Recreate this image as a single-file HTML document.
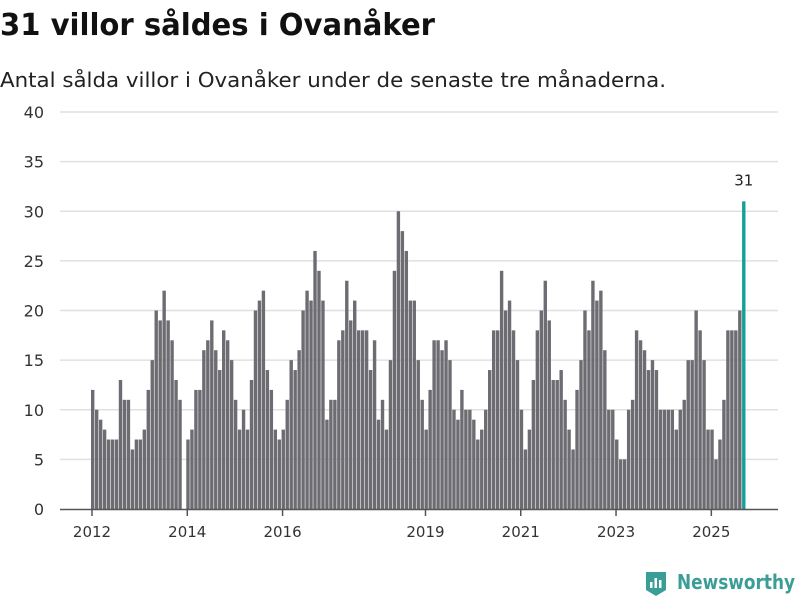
<!DOCTYPE html>
<html><head><meta charset="utf-8"><style>
body{margin:0;background:#fff;width:800px;height:600px;overflow:hidden;font-family:"DejaVu Sans","Liberation Sans",sans-serif;}
</style></head><body>
<svg width="800" height="600" id="svg">
<text x="0" y="35" font-size="30" font-weight="bold" fill="#111" textLength="435" lengthAdjust="spacingAndGlyphs">31 villor såldes i Ovanåker</text>
<text x="0" y="87" font-size="20" fill="#222" textLength="666" lengthAdjust="spacingAndGlyphs">Antal sålda villor i Ovanåker under de senaste tre månaderna.</text>
<g id="grid"></g><g id="bars"></g><g id="xax"></g>
<g>
<path d="M646 572 h20 v18 l-10 6 l-10 -6 z" fill="#3a9e96"/>
<rect x="650" y="582" width="2.5" height="6" fill="#fff"/><rect x="654.5" y="578" width="2.5" height="10" fill="#fff"/><rect x="659" y="580" width="2.5" height="8" fill="#fff"/>
<text x="677" y="589" font-size="20" font-weight="bold" fill="#3a9e96" textLength="118" lengthAdjust="spacingAndGlyphs">Newsworthy</text>
</g>
</svg>
<script>
const values=[12,10,9,8,7,7,7,13,11,11,6,7,
7,8,12,15,20,19,22,19,17,13,11,0,
7,8,12,12,16,17,19,16,14,18,17,15,
11,8,10,8,13,20,21,22,14,12,8,7,
8,11,15,14,16,20,22,21,26,24,21,9,
11,11,17,18,23,19,21,18,18,18,14,17,
9,11,8,15,24,30,28,26,21,21,15,11,
8,12,17,17,16,17,15,10,9,12,10,10,
9,7,8,10,14,18,18,24,20,21,18,15,
10,6,8,13,18,20,23,19,13,13,14,11,
8,6,12,15,20,18,23,21,22,16,10,10,
7,5,5,10,11,18,17,16,14,15,14,10,
10,10,10,8,10,11,15,15,20,18,15,8,
8,5,7,11,18,18,18,20,31];
const yTicks=[0,5,10,15,20,25,30,35,40];
const xYears=[2012,2014,2016,2019,2021,2023,2025];
const startYear=2012;
const NS='http://www.w3.org/2000/svg';
const y0=509,pxU=9.925,x0=91,step=3.97;
const y=v=>y0-v*pxU;
const x=i=>x0+i*step;
function mk(t,a,p){const e=document.createElementNS(NS,t);for(const k in a)e.setAttribute(k,a[k]);p.appendChild(e);return e;}
const grid=document.getElementById('grid'),bars=document.getElementById('bars'),xax=document.getElementById('xax');
yTicks.forEach(v=>{
 if(v>0){const l=mk('line',{x1:60,x2:778,y1:y(v),y2:y(v),stroke:'#e0e0e0','stroke-width':1.5},grid);
 
 }
 const t=mk('text',{x:44,y:y(v)+6,'font-size':16,'text-anchor':'end',fill:'#333'},grid);
 
 
 t.textContent=v;
});
values.forEach((v,i)=>{
 const last=i===values.length-1;
 const r=mk('rect',{x:x(i),y:y(v),width:3.4,height:v*pxU,fill:last?'#14a098':'#6d6c72'},bars);
 
 
 if(last){const t=mk('text',{x:x(i)+1.7,y:y(v)-16,'font-size':15,'text-anchor':'middle',fill:'#222'},bars);
 
 
 t.textContent=v;}
});
const ax=mk('line',{x1:60,x2:778,y1:y0+0.5,y2:y0+0.5,stroke:'#555','stroke-width':1.5},xax);


xYears.forEach(yr=>{
 const px=x((yr-startYear)*12)+1;
 const tk=mk('line',{x1:px,x2:px,y1:y0,y2:y0+7,stroke:'#555','stroke-width':1.5},xax);
 
 
 const t=mk('text',{x:px,y:y0+28,'font-size':15,'text-anchor':'middle',fill:'#333'},xax);
 
 
 t.textContent=yr;
});
</script>
</body></html>
